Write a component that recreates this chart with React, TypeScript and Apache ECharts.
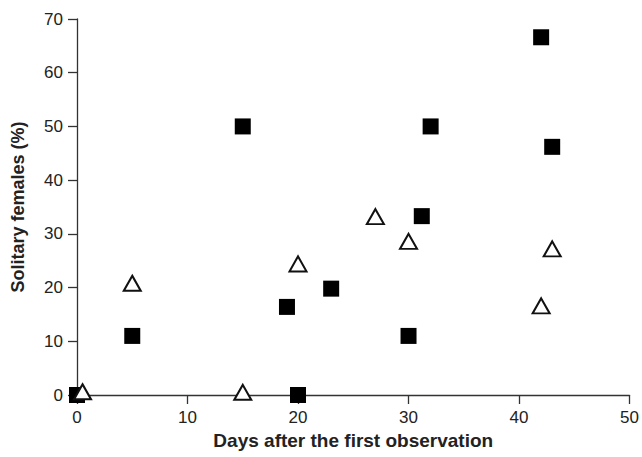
import React, { useEffect, useRef } from "react";
import * as echarts from "echarts";

// Days after first observation / percent of solitary females
const squareDays = [0, 5, 15, 19, 20, 23, 30, 31.2, 32, 42, 43];
const squareValues = [0, 11, 50, 16.4, 0, 19.8, 11, 33.3, 50, 66.6, 46.2];
const triangleDays = [0.5, 5, 15, 20, 27, 30, 42, 43];
const triangleValues = [0.6, 20.8, 0.5, 24.4, 33.2, 28.6, 16.6, 27.2];

const xTicks = { min: 0, max: 50, interval: 10 };
const yTicks = { min: 0, max: 70, interval: 10 };

const FONT = "'Liberation Sans', Arial, Helvetica, sans-serif";

export default function App() {
  const ref = useRef<HTMLDivElement>(null);
  useEffect(() => {
    if (!ref.current) return;
    const chart = echarts.init(ref.current, undefined, { renderer: "svg" });
    const axisCommon = {
      axisLine: { show: true, lineStyle: { color: "#333", width: 1.3 } },
      axisTick: { show: true, length: 9, lineStyle: { color: "#333", width: 1.3 } },
      splitLine: { show: false },
      axisLabel: { color: "#222", fontSize: 17, fontFamily: FONT },
      nameTextStyle: { color: "#222", fontSize: 18, fontWeight: "bold", fontFamily: FONT },
      nameLocation: "middle",
    };
    chart.setOption({
      animation: false,
      backgroundColor: "#fff",
      grid: { left: 77, right: 11, top: 19, bottom: 62, containLabel: false },
      xAxis: {
        type: "value",
        ...axisCommon,
        min: xTicks.min,
        max: xTicks.max,
        interval: xTicks.interval,
        name: "Days after the first observation",
        nameGap: 33,
        nameTextStyle: { ...axisCommon.nameTextStyle, fontSize: 19 },
        axisLabel: { ...axisCommon.axisLabel, margin: 14 },
      },
      yAxis: {
        type: "value",
        ...axisCommon,
        min: yTicks.min,
        max: yTicks.max,
        interval: yTicks.interval,
        name: "Solitary females (%)",
        nameGap: 50,
        axisLabel: { ...axisCommon.axisLabel, margin: 14 },
      },
      series: [
        {
          type: "scatter",
          clip: false,
          symbol: "rect",
          symbolSize: 16,
          itemStyle: { color: "#000", opacity: 1 },
          data: squareDays.map((d, i) => [d, squareValues[i]]),
          z: 3,
        },
        {
          type: "scatter",
          clip: false,
          symbol: "triangle",
          symbolSize: [17, 15],
          itemStyle: { color: "#fff", borderColor: "#111", borderWidth: 2, opacity: 1 },
          data: triangleDays.map((d, i) => [d, triangleValues[i]]),
          z: 4,
        },
      ],
    });
    return () => chart.dispose();
  }, []);
  return <div ref={ref} style={{ width: 642, height: 457, position: "absolute", left: 0, top: 0 }} />;
}
